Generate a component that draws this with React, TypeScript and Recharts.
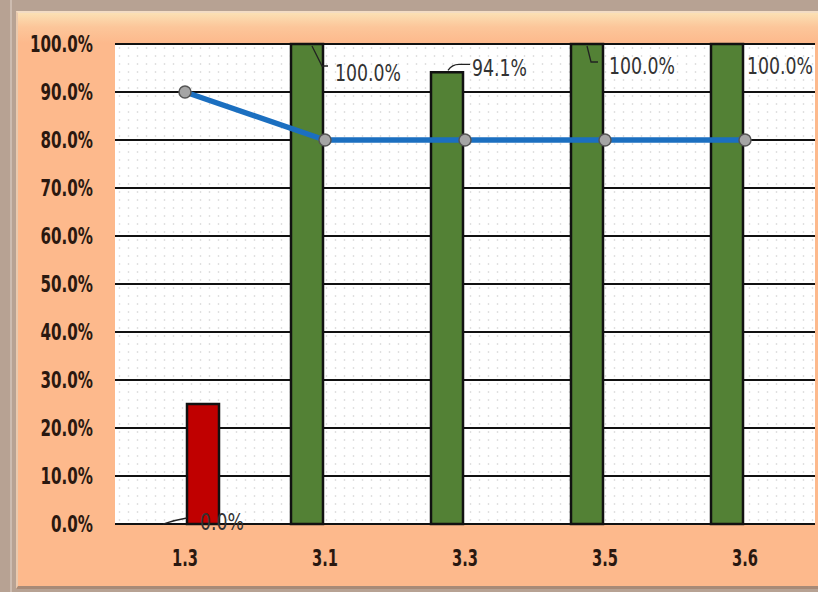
import { ComposedChart, Bar, Line, XAxis, YAxis, CartesianGrid, LabelList } from "recharts";

// values
const categories = ["1.3", "3.1", "3.3", "3.5", "3.6"];
const metValues = [0, 100, 94.1, 100, 100];
const missedValues = [25, 0, 0, 0, 0];
const targetValues = [90, 80, 80, 80, 80];
const yTicks = [0, 10, 20, 30, 40, 50, 60, 70, 80, 90, 100];

const data = categories.map((name, i) => ({
  name,
  met: metValues[i],
  missed: missedValues[i],
  target: targetValues[i],
}));

// label placement (Excel style, relative to bar's right edge / top)
const labelPlacement = [
  { dx: 17, dy: -2, leader: "M-20,0 Q-8,-4 4,-6" },
  { dx: 12, dy: 29, leader: "M-11,2 L-1,22 L5,22" },
  { dx: 9, dy: -4, leader: "M-15,-2 Q-11,-8 -4,-8 L7,-8" },
  { dx: 6, dy: 22, leader: "M-16,2 L-12,18 L-5,18" },
  { dx: 4, dy: 22, leader: "" },
];

const font = "'DejaVu Sans', 'Liberation Sans', sans-serif";
const fmt = (v: number) => `${v.toFixed(1)}%`;

// squeeze text to the narrow look of the original
const textWidth = (s: string, digit: number, dot: number, pct: number) =>
  s.split("").reduce((w, c) => w + (c === "." ? dot : c === "%" ? pct : digit), 0);

const YTick = (props: any) => {
  const { x, y, payload } = props;
  const s = fmt(payload.value);
  return (
    <text
      x={x}
      y={y}
      textAnchor="end"
      dominantBaseline="central"
      fontFamily={font}
      fontWeight={700}
      fontSize={23}
      fill="#2a1810"
      textLength={textWidth(s, 10.5, 5, 16)}
      lengthAdjust="spacingAndGlyphs"
    >
      {s}
    </text>
  );
};

const XTick = (props: any) => {
  const { x, y, payload } = props;
  const s = String(payload.value);
  return (
    <text
      x={x}
      y={y}
      textAnchor="middle"
      dominantBaseline="central"
      fontFamily={font}
      fontWeight={700}
      fontSize={23}
      fill="#2a1810"
      textLength={textWidth(s, 10.5, 5, 16)}
      lengthAdjust="spacingAndGlyphs"
    >
      {s}
    </text>
  );
};

const MetLabel = (props: any) => {
  const { x, y, value, index } = props;
  const p = labelPlacement[index];
  const rx = x - 2;
  const s = fmt(value);
  return (
    <g>
      {p.leader && (
        <path d={p.leader} transform={`translate(${rx},${y})`} fill="none" stroke="#222" strokeWidth={1.3} />
      )}
      <text
        x={rx + p.dx}
        y={y + p.dy}
        dominantBaseline="central"
        fontFamily={font}
        fontSize={23}
        fill="#333"
        textLength={textWidth(s, 11, 5.5, 16.5)}
        lengthAdjust="spacingAndGlyphs"
      >
        {s}
      </text>
    </g>
  );
};

export default function App() {
  return (
    <div style={{ position: "absolute", left: 0, top: 0, width: 818, height: 592, background: "#b7a293", overflow: "hidden" }}>
      <div style={{ position: "absolute", left: 10, top: 0, width: 2, height: 592, background: "#cdbcb0" }} />
      <div
        style={{
          position: "absolute",
          left: 16,
          top: 11,
          width: 810,
          height: 578,
          background: "linear-gradient(to bottom, #fbe0b4 0px, #fcc69a 14px, #fdb98c 30px, #fdb98c 100%)",
          borderLeft: "2px solid #e9c9ae",
          borderTop: "2px solid #f3dcc4",
          borderBottom: "3px solid #a78a77",
          boxSizing: "border-box",
        }}
      />
      <div
        style={{
          position: "absolute",
          left: 115,
          top: 44,
          width: 700,
          height: 480,
          backgroundColor: "#ffffff",
          backgroundImage: "radial-gradient(circle, #e0e0e0 0.8px, transparent 1.2px)",
          backgroundSize: "9px 8px",
        }}
      />
      <div style={{ position: "absolute", left: 0, top: 0 }}>
        <ComposedChart
          width={818}
          height={592}
          data={data}
          margin={{ top: 44, right: 3, left: 20, bottom: 38 }}
          barGap={4}
          barSize={32}
        >
          <CartesianGrid vertical={false} stroke="#111" strokeWidth={2} fill="none" />
          <XAxis
            dataKey="name"
            tick={<XTick />}
            tickLine={false}
            axisLine={{ stroke: "#111", strokeWidth: 2 }}
            tickSize={0}
            tickMargin={34}
            height={30}
          />
          <YAxis
            domain={[0, 100]}
            ticks={yTicks}
            tick={<YTick />}
            tickLine={false}
            axisLine={false}
            tickSize={0}
            tickMargin={22}
            width={95}
            interval={0}
          />
          <Bar dataKey="met" fill="#538135" stroke="#111" strokeWidth={2.5} isAnimationActive={false} />
          <Bar dataKey="missed" fill="#c00000" stroke="#111" strokeWidth={2.5} isAnimationActive={false} />
          <Line
            dataKey="target"
            stroke="#1b6fc0"
            strokeWidth={5.5}
            dot={{ r: 6, fill: "#a5a5a5", stroke: "#555", strokeWidth: 1.5 }}
            isAnimationActive={false}
          />
          {/* invisible carrier for the bar labels, so the zero bar keeps its label */}
          <Line dataKey="met" stroke="none" dot={false} activeDot={false} isAnimationActive={false}>
            <LabelList dataKey="met" content={MetLabel} />
          </Line>
        </ComposedChart>
      </div>
    </div>
  );
}
